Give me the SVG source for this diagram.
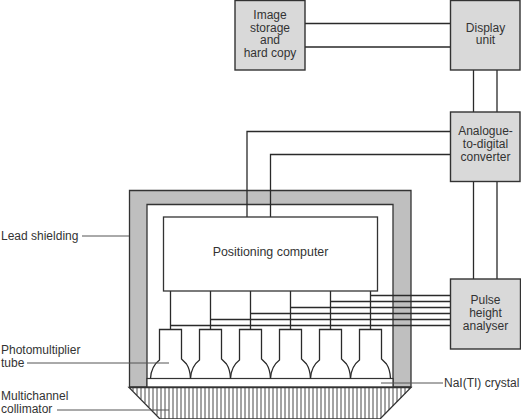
<svg xmlns="http://www.w3.org/2000/svg" xmlns:xlink="http://www.w3.org/1999/xlink" width="521" height="419" viewBox="0 0 521 419">
<style>
.box{fill:#d9d9d9;stroke:#333;stroke-width:1.4}
.ln{fill:none;stroke:#2a2a2a;stroke-width:1.3}
.lab{fill:none;stroke:#555;stroke-width:1}
.hatch{stroke:#333;stroke-width:.9}
text{font-family:"Liberation Sans",Arial,sans-serif;font-size:12px;fill:#333}
.c{text-anchor:middle}
</style>
<defs>
<path id="tube" class="ln" d="M-20,378.500 C-19.500,369 -15,363 -11,360 L-11,329.500 L11,329.500 L11,359 L16,364 C18,367 19.700,372 20,378.500"/>
</defs>
<rect width="521" height="419" fill="#fff"/>
<g id="shield">
<path d="M129.500,190.500H411V387H393V204.500H147V387H129.500Z" fill="#bfbfbf" stroke="#333" stroke-width="1.3"/>
<rect x="147" y="378.500" width="246" height="8.500" fill="#fff" stroke="#333" stroke-width="1.2"/>
</g>
<g id="collimator">
<path d="M129,387.500H411L380,419H160Z" fill="#fff" stroke="#333" stroke-width="1.3"/>
<path class="hatch" d="M133,387V391M137,387V395M141,387V399M145,387V403M149,387V407M153,387V411M157,387V415M161,387V419M165,387V419M169,387V419M173,387V419M177,387V419M181,387V419M185,387V419M189,387V419M193,387V419M197,387V419M201,387V419M205,387V419M209,387V419M213,387V419M217,387V419M221,387V419M225,387V419M229,387V419M233,387V419M237,387V419M241,387V419M245,387V419M249,387V419M253,387V419M257,387V419M261,387V419M265,387V419M269,387V419M273,387V419M277,387V419M281,387V419M285,387V419M289,387V419M293,387V419M297,387V419M301,387V419M305,387V419M309,387V419M313,387V419M317,387V419M321,387V419M325,387V419M329,387V419M333,387V419M337,387V419M341,387V419M345,387V419M349,387V419M353,387V419M357,387V419M361,387V419M365,387V419M369,387V419M373,387V419M377,387V419M381,387V418M385,387V414M389,387V410M393,387V406M397,387V402M401,387V398M405,387V394M409,387V389"/>
</g>
<g id="connectors">
<path class="ln" d="M305,23.500H450M305,47H450M473.500,70V112M497,70V112M473.500,181V279M497,181V279"/>
<path class="ln" d="M450,131.500H247V217M450,154.500H270.500V217"/>
<path class="ln" d="M170.500,291V329M210.500,291V329M250.500,291V329M290.500,291V329M330.500,291V329M370.500,291V329"/>
<path class="ln" d="M170.500,325.500H450M210.500,319.500H450M250.500,313.500H450M290.500,307.500H450M330.500,301.500H450M370.500,295.500H450"/>
</g>
<g id="tubes">
<use xlink:href="#tube" href="#tube" x="170.500"/>
<use xlink:href="#tube" href="#tube" x="210.500"/>
<use xlink:href="#tube" href="#tube" x="250.500"/>
<use xlink:href="#tube" href="#tube" x="290.500"/>
<use xlink:href="#tube" href="#tube" x="330.500"/>
<use xlink:href="#tube" href="#tube" x="370.500"/>
</g>
<g id="image-storage">
<rect class="box" x="235" y="0.500" width="70" height="69.500"/>
<text class="c" x="270" y="19">Image</text><text class="c" x="270" y="31.500">storage</text><text class="c" x="270" y="44">and</text><text class="c" x="270" y="56.500">hard copy</text>
</g>
<g id="display-unit">
<rect class="box" x="450.500" y="0.500" width="69.500" height="69.500"/>
<text class="c" x="485.500" y="31.500">Display</text><text class="c" x="485.500" y="44">unit</text>
</g>
<g id="adc">
<rect class="box" x="450.500" y="112" width="69.500" height="69.500"/>
<text class="c" x="485.500" y="135">Analogue-</text><text class="c" x="485.500" y="148">to-digital</text><text class="c" x="485.500" y="161">converter</text>
</g>
<g id="pulse-height-analyser">
<rect class="box" x="450.500" y="279" width="70" height="70"/>
<text class="c" x="485.500" y="304">Pulse</text><text class="c" x="485.500" y="317">height</text><text class="c" x="485.500" y="330">analyser</text>
</g>
<g id="positioning-computer">
<rect x="163.500" y="217" width="214" height="74" fill="#fff" stroke="#333" stroke-width="1.3"/>
<text class="c" x="270.500" y="256" style="font-size:12.4px">Positioning computer</text>
</g>
<g id="labels">
<path class="lab" d="M82,236H129M27,363H169M57,410H169M381,383H443"/>
<text x="1" y="240">Lead shielding</text>
<text x="1" y="354">Photomultiplier</text><text x="1" y="367">tube</text>
<text x="1" y="400">Multichannel</text><text x="1" y="413">collimator</text>
<text x="444" y="386.500">NaI(TI) crystal</text>
</g>
</svg>
